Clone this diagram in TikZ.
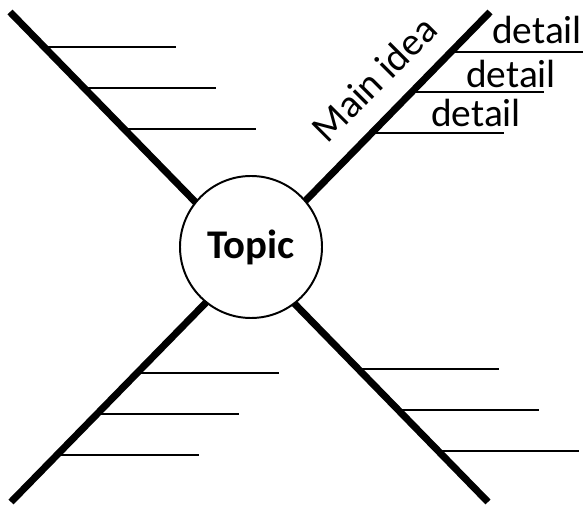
\documentclass[tikz,border=0pt]{standalone}
\usepackage{fontspec}
\setmainfont{Carlito}
\usepackage{tikz}
\usetikzlibrary{calc}
\tikzset{spoke/.style={line width=5pt},
	twig/.style={line width=1.4pt},
	hub/.style={circle, draw, fill=white, line width=1.4pt, minimum size=3.55cm, inner sep=0pt},
	bigtext/.style={inner sep=0pt, font=\fontsize{28}{33}\selectfont}}

\begin{document}
\begin{tikzpicture}[scale=0.25]
			\useasboundingbox (0,0) rectangle (58.3,50.8);
			\coordinate (ul) at (1.0,49.6);
			\coordinate (ur) at (49.0,49.6);
			\coordinate (ll) at (1.1,0.6);
			\coordinate (lr) at (48.8,0.6);
			\draw [spoke] (ul) -- (lr);
			\draw [spoke] (ur) -- (ll);
			% the detail lines on each arm
			\foreach \t in {0.071,0.155,0.239} \draw [twig] ($(ul)!\t!(lr)$) -- ++(13.2,0);
			\foreach \t in {0.082,0.163,0.247} \draw [twig] ($(ur)!\t!(ll)$) -- ++(13.2,0);
			\foreach \t in {0.737,0.820,0.904} \draw [twig] ($(ur)!\t!(ll)$) -- ++(14.2,0);
			\foreach \t in {0.729,0.812,0.896} \draw [twig] ($(ul)!\t!(lr)$) -- ++(14.1,0);
			\node [hub, font=\bfseries\fontsize{29}{34}\selectfont] (topic) at (25.1,26.1) {Topic};
			\node [bigtext, anchor=base west, rotate=45] (main) at (32.7,36.3) {Main idea};
			\node [bigtext, anchor=base west] (det1) at (49.2,46.47) {detail};
			\node [bigtext, anchor=base west] (det2) at (46.6,42.07) {detail};
			\node [bigtext, anchor=base west] (det3) at (43.1,38.13) {detail};
		\end{tikzpicture}
\end{document}
